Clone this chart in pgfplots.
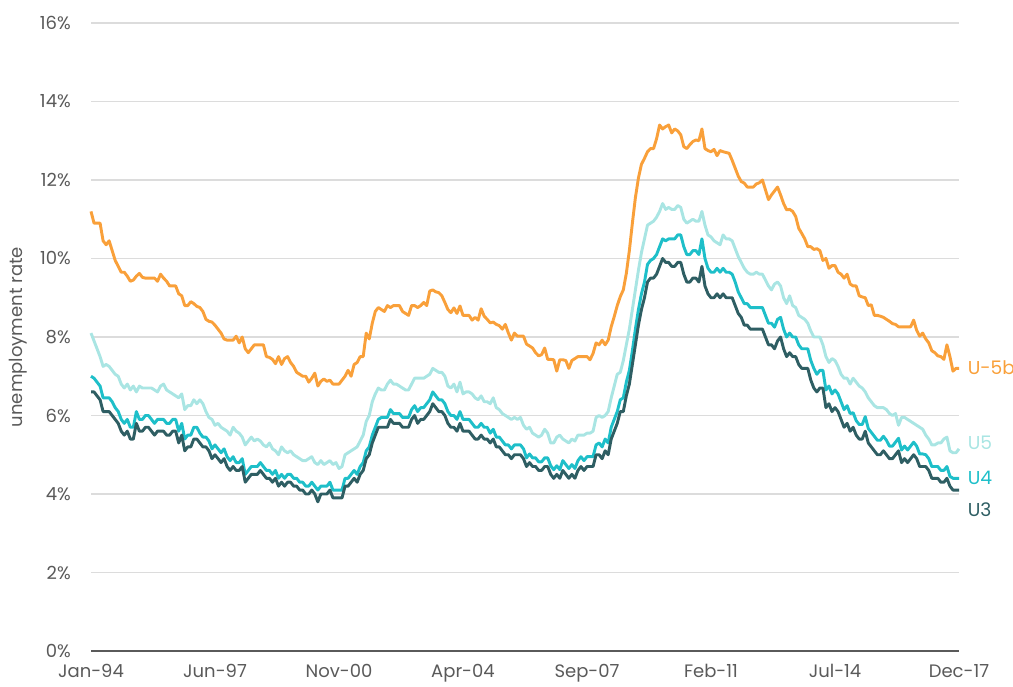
\documentclass[border=0pt]{standalone}
\usepackage{fontspec}
\setmainfont{Poppins}
\usepackage{pgfplots}
\pgfplotsset{compat=1.18}
\usepackage{pgfplotstable}
\definecolor{cU3}{HTML}{2E5E63}
\definecolor{cU4}{HTML}{1EBFC9}
\definecolor{cU5}{HTML}{A9E5E3}
\definecolor{cU5b}{HTML}{F9A03A}
\definecolor{txt}{HTML}{5A5A5A}
\definecolor{grd}{HTML}{DCDCDC}

% U3, Jan-94 .. Dec-17 (monthly)
\pgfplotstableread[row sep=\\]{
y\\
6.6\\6.6\\6.5\\6.4\\6.1\\6.1\\6.1\\6.0\\5.9\\5.8\\5.6\\5.5\\
5.6\\5.4\\5.4\\5.8\\5.6\\5.6\\5.7\\5.7\\5.6\\5.5\\5.6\\5.6\\
5.6\\5.5\\5.5\\5.6\\5.6\\5.3\\5.5\\5.1\\5.2\\5.2\\5.4\\5.4\\
5.3\\5.2\\5.2\\5.1\\4.9\\5.0\\4.9\\4.8\\4.9\\4.7\\4.6\\4.7\\
4.6\\4.6\\4.7\\4.3\\4.4\\4.5\\4.5\\4.5\\4.6\\4.5\\4.4\\4.4\\
4.3\\4.4\\4.2\\4.3\\4.2\\4.3\\4.3\\4.2\\4.2\\4.1\\4.1\\4.0\\
4.0\\4.1\\4.0\\3.8\\4.0\\4.0\\4.0\\4.1\\3.9\\3.9\\3.9\\3.9\\
4.2\\4.2\\4.3\\4.4\\4.3\\4.5\\4.6\\4.9\\5.0\\5.3\\5.5\\5.7\\
5.7\\5.7\\5.7\\5.9\\5.8\\5.8\\5.8\\5.7\\5.7\\5.7\\5.9\\6.0\\
5.8\\5.9\\5.9\\6.0\\6.1\\6.3\\6.2\\6.1\\6.1\\6.0\\5.8\\5.7\\
5.7\\5.6\\5.8\\5.6\\5.6\\5.6\\5.5\\5.4\\5.4\\5.5\\5.4\\5.4\\
5.3\\5.4\\5.2\\5.2\\5.1\\5.0\\5.0\\4.9\\5.0\\5.0\\5.0\\4.9\\
4.7\\4.8\\4.7\\4.7\\4.6\\4.6\\4.7\\4.7\\4.5\\4.4\\4.5\\4.4\\
4.6\\4.5\\4.4\\4.5\\4.4\\4.6\\4.7\\4.6\\4.7\\4.7\\4.7\\5.0\\
5.0\\4.9\\5.1\\5.0\\5.4\\5.6\\5.8\\6.1\\6.1\\6.5\\6.8\\7.3\\
7.8\\8.3\\8.7\\9.0\\9.4\\9.5\\9.5\\9.6\\9.8\\10.0\\9.9\\9.9\\
9.8\\9.8\\9.9\\9.9\\9.6\\9.4\\9.4\\9.5\\9.5\\9.4\\9.8\\9.3\\
9.1\\9.0\\9.0\\9.1\\9.0\\9.1\\9.0\\9.0\\9.0\\8.8\\8.6\\8.5\\
8.3\\8.3\\8.2\\8.2\\8.2\\8.2\\8.2\\8.0\\7.8\\7.8\\7.7\\7.9\\
8.0\\7.7\\7.5\\7.6\\7.5\\7.5\\7.3\\7.2\\7.2\\7.2\\6.9\\6.7\\
6.6\\6.7\\6.7\\6.2\\6.3\\6.1\\6.2\\6.1\\5.9\\5.7\\5.8\\5.6\\
5.7\\5.5\\5.4\\5.4\\5.6\\5.3\\5.2\\5.1\\5.0\\5.0\\5.1\\5.0\\
4.9\\4.9\\5.0\\5.1\\4.8\\4.9\\4.8\\4.9\\5.0\\4.9\\4.7\\4.7\\
4.7\\4.6\\4.4\\4.4\\4.4\\4.3\\4.3\\4.4\\4.2\\4.1\\4.1\\4.1\\
}\uthree

% U4
\pgfplotstableread[row sep=\\]{
y\\
7.0\\6.95\\6.85\\6.75\\6.45\\6.45\\6.45\\6.35\\6.2\\6.1\\5.9\\5.8\\
5.9\\5.7\\5.7\\6.1\\5.9\\5.9\\6.0\\6.0\\5.9\\5.8\\5.9\\5.9\\
5.9\\5.8\\5.8\\5.9\\5.9\\5.6\\5.8\\5.4\\5.5\\5.5\\5.7\\5.7\\
5.55\\5.45\\5.45\\5.35\\5.15\\5.25\\5.15\\5.05\\5.15\\4.95\\4.85\\4.95\\
4.8\\4.8\\4.9\\4.5\\4.6\\4.7\\4.7\\4.7\\4.8\\4.7\\4.6\\4.6\\
4.5\\4.6\\4.4\\4.5\\4.4\\4.5\\4.5\\4.4\\4.4\\4.3\\4.3\\4.2\\
4.2\\4.3\\4.2\\4.1\\4.2\\4.2\\4.2\\4.3\\4.1\\4.1\\4.1\\4.1\\
4.4\\4.4\\4.5\\4.6\\4.5\\4.7\\4.8\\5.1\\5.2\\5.5\\5.7\\5.9\\
5.95\\5.95\\5.95\\6.15\\6.05\\6.05\\6.05\\5.95\\5.95\\5.95\\6.15\\6.25\\
6.1\\6.2\\6.2\\6.3\\6.4\\6.6\\6.5\\6.4\\6.4\\6.3\\6.1\\6.0\\
6.0\\5.9\\6.1\\5.9\\5.9\\5.9\\5.8\\5.7\\5.7\\5.8\\5.7\\5.7\\
5.55\\5.65\\5.45\\5.45\\5.35\\5.25\\5.25\\5.15\\5.25\\5.25\\5.25\\5.15\\
4.92\\5.02\\4.92\\4.92\\4.82\\4.82\\4.92\\4.92\\4.72\\4.62\\4.72\\4.62\\
4.85\\4.75\\4.65\\4.75\\4.65\\4.85\\4.95\\4.85\\4.95\\4.95\\4.95\\5.25\\
5.3\\5.2\\5.4\\5.3\\5.7\\5.9\\6.1\\6.4\\6.45\\6.85\\7.15\\7.65\\
8.2\\8.7\\9.1\\9.4\\9.85\\9.95\\10.0\\10.1\\10.3\\10.5\\10.45\\10.5\\
10.5\\10.5\\10.6\\10.6\\10.3\\10.1\\10.1\\10.2\\10.2\\10.1\\10.5\\10.0\\
9.75\\9.65\\9.65\\9.75\\9.65\\9.75\\9.65\\9.65\\9.6\\9.4\\9.15\\9.0\\
8.85\\8.85\\8.75\\8.75\\8.75\\8.75\\8.75\\8.55\\8.35\\8.35\\8.25\\8.45\\
8.5\\8.2\\8.0\\8.1\\8.0\\8.0\\7.8\\7.7\\7.7\\7.7\\7.4\\7.2\\
7.05\\7.15\\7.15\\6.65\\6.75\\6.55\\6.65\\6.55\\6.35\\6.15\\6.25\\6.05\\
6.07\\5.87\\5.77\\5.77\\5.97\\5.67\\5.57\\5.47\\5.37\\5.37\\5.47\\5.37\\
5.22\\5.22\\5.32\\5.42\\5.12\\5.22\\5.12\\5.22\\5.32\\5.22\\5.02\\5.02\\
5.0\\4.9\\4.7\\4.7\\4.7\\4.6\\4.6\\4.7\\4.45\\4.4\\4.4\\4.4\\
}\ufour

% U5
\pgfplotstableread[row sep=\\]{
y\\
8.1\\7.9\\7.7\\7.5\\7.25\\7.3\\7.25\\7.15\\7.05\\7.0\\6.8\\6.7\\
6.8\\6.65\\6.75\\6.6\\6.75\\6.7\\6.7\\6.7\\6.7\\6.65\\6.6\\6.75\\
6.8\\6.65\\6.6\\6.55\\6.5\\6.45\\6.55\\6.15\\6.25\\6.25\\6.4\\6.3\\
6.4\\6.3\\6.1\\5.95\\5.9\\5.75\\5.8\\5.7\\5.65\\5.6\\5.5\\5.7\\
5.6\\5.55\\5.45\\5.25\\5.35\\5.45\\5.35\\5.4\\5.35\\5.25\\5.2\\5.3\\
5.15\\5.1\\5.0\\5.2\\5.1\\5.05\\5.1\\5.0\\4.95\\4.9\\4.85\\4.85\\
4.9\\4.95\\4.8\\4.75\\4.85\\4.75\\4.8\\4.85\\4.75\\4.8\\4.65\\4.7\\
5.0\\5.05\\5.1\\5.15\\5.2\\5.35\\5.5\\5.85\\6.0\\6.35\\6.55\\6.7\\
6.65\\6.65\\6.8\\6.9\\6.8\\6.8\\6.75\\6.7\\6.65\\6.65\\6.8\\6.95\\
6.95\\6.95\\6.95\\7.0\\7.05\\7.2\\7.15\\7.1\\7.1\\7.0\\6.75\\6.7\\
6.8\\6.6\\6.85\\6.55\\6.6\\6.6\\6.55\\6.45\\6.4\\6.5\\6.35\\6.35\\
6.3\\6.45\\6.2\\6.15\\6.05\\6.0\\5.95\\5.9\\5.95\\5.9\\5.95\\5.75\\
5.65\\5.7\\5.55\\5.5\\5.45\\5.5\\5.65\\5.55\\5.3\\5.3\\5.45\\5.5\\
5.4\\5.35\\5.3\\5.4\\5.35\\5.5\\5.5\\5.5\\5.55\\5.55\\5.6\\5.95\\
6.0\\5.95\\6.0\\6.1\\6.45\\6.75\\7.05\\7.1\\7.4\\7.8\\8.2\\8.7\\
9.2\\9.7\\10.15\\10.5\\10.85\\10.9\\10.95\\11.05\\11.2\\11.4\\11.25\\11.3\\
11.25\\11.25\\11.35\\11.3\\11.0\\10.9\\10.95\\11.0\\10.95\\10.95\\11.2\\10.85\\
10.6\\10.55\\10.45\\10.4\\10.35\\10.6\\10.5\\10.5\\10.45\\10.25\\10.05\\9.9\\
9.75\\9.65\\9.6\\9.6\\9.65\\9.6\\9.6\\9.45\\9.3\\9.2\\9.35\\9.4\\
9.3\\9.0\\8.85\\9.05\\8.8\\8.75\\8.55\\8.5\\8.45\\8.35\\8.15\\8.0\\
8.0\\8.0\\7.8\\7.5\\7.35\\7.45\\7.4\\7.25\\7.05\\6.95\\6.95\\6.8\\
6.95\\6.85\\6.75\\6.7\\6.6\\6.45\\6.35\\6.25\\6.2\\6.2\\6.2\\6.15\\
6.05\\6.0\\6.05\\5.75\\5.95\\5.95\\5.9\\5.85\\5.8\\5.75\\5.7\\5.65\\
5.5\\5.4\\5.25\\5.25\\5.3\\5.3\\5.4\\5.45\\5.1\\5.05\\5.05\\5.15\\
}\ufive

% U-5b
\pgfplotstableread[row sep=\\]{
y\\
11.2\\10.9\\10.9\\10.9\\10.45\\10.35\\10.45\\10.2\\9.95\\9.8\\9.65\\9.65\\
9.55\\9.42\\9.45\\9.55\\9.62\\9.52\\9.5\\9.5\\9.5\\9.5\\9.42\\9.6\\
9.5\\9.42\\9.3\\9.3\\9.3\\9.1\\9.05\\8.8\\8.8\\8.9\\8.85\\8.78\\
8.75\\8.65\\8.45\\8.4\\8.38\\8.3\\8.2\\8.1\\7.95\\7.92\\7.92\\7.92\\
8.02\\7.85\\8.0\\7.7\\7.6\\7.7\\7.8\\7.8\\7.8\\7.8\\7.5\\7.48\\
7.43\\7.32\\7.5\\7.3\\7.45\\7.5\\7.35\\7.25\\7.1\\7.05\\7.0\\7.0\\
6.85\\6.95\\7.08\\6.75\\6.87\\6.93\\6.87\\6.9\\6.8\\6.8\\6.8\\6.9\\
7.0\\7.15\\7.0\\7.3\\7.35\\7.5\\7.5\\8.1\\7.95\\8.35\\8.65\\8.75\\
8.7\\8.65\\8.8\\8.75\\8.8\\8.8\\8.8\\8.65\\8.6\\8.55\\8.8\\8.8\\
8.75\\8.8\\8.88\\8.8\\9.17\\9.2\\9.15\\9.13\\9.05\\8.88\\8.7\\8.62\\
8.74\\8.6\\8.79\\8.55\\8.55\\8.55\\8.43\\8.5\\8.43\\8.72\\8.53\\8.45\\
8.36\\8.38\\8.32\\8.29\\8.2\\8.32\\8.1\\7.92\\8.1\\8.02\\8.02\\8.02\\
7.82\\7.77\\7.72\\7.6\\7.52\\7.55\\7.72\\7.43\\7.43\\7.42\\7.13\\7.42\\
7.42\\7.4\\7.2\\7.4\\7.45\\7.5\\7.5\\7.5\\7.5\\7.42\\7.58\\7.85\\
7.8\\7.92\\7.8\\7.92\\8.26\\8.52\\8.8\\9.03\\9.2\\9.62\\10.2\\10.9\\
11.55\\12.05\\12.4\\12.55\\12.72\\12.8\\12.8\\13.05\\13.4\\13.3\\13.36\\13.4\\
13.2\\13.3\\13.25\\13.15\\12.85\\12.8\\12.9\\12.98\\13.02\\13.0\\13.3\\12.8\\
12.75\\12.72\\12.78\\12.62\\12.75\\12.72\\12.7\\12.68\\12.5\\12.3\\12.1\\11.96\\
11.92\\11.82\\11.82\\11.82\\11.9\\11.93\\12.0\\11.75\\11.5\\11.62\\11.72\\11.82\\
11.62\\11.4\\11.24\\11.25\\11.2\\11.07\\10.77\\10.64\\10.5\\10.3\\10.3\\10.23\\
10.25\\10.2\\9.95\\10.0\\9.75\\9.82\\9.82\\9.65\\9.6\\9.5\\9.6\\9.35\\
9.3\\9.3\\9.05\\9.02\\9.0\\8.8\\8.82\\8.55\\8.55\\8.53\\8.5\\8.45\\
8.4\\8.34\\8.32\\8.26\\8.26\\8.26\\8.26\\8.26\\8.43\\8.17\\8.02\\8.1\\
7.95\\7.85\\7.65\\7.6\\7.52\\7.5\\7.43\\7.8\\7.5\\7.13\\7.2\\7.2\\
}\ufiveb

\begin{document}
\begin{tikzpicture}
\begin{axis}[
  scale only axis,
  width=651pt, height=471pt,
  xmin=0, xmax=287, ymin=0, ymax=16,
  axis line style={draw=none},
  major tick length=0pt,
  ymajorgrids,
  grid style={grd, line width=0.8pt},
  ytick={0,2,...,16},
  yticklabel={\pgfmathprintnumber{\tick}\%},
  xtick={0,41,82,123,164,205,246,287},
  xticklabels={Jan-94,Jun-97,Nov-00,Apr-04,Sep-07,Feb-11,Jul-14,Dec-17},
  /pgf/number format/assume math mode=true,
  tick label style={font=\fontsize{13.5}{16}\selectfont, text=txt},
  yticklabel style={anchor=east, inner sep=0pt, xshift=-15pt},
  xticklabel style={anchor=north, inner sep=0pt, yshift=-10pt},
  ylabel={unemployment rate},
  every axis y label/.style={at={(rel axis cs:-0.0841,0.5)}, rotate=90, anchor=center,
     font=\fontsize{13.5}{16}\selectfont, text=txt},
  clip=false,
  every axis plot/.append style={line width=2.2pt, line join=round, no markers},
]
\addplot[cU5] table[x expr=\coordindex, y=y] {\ufive};
\addplot[cU4] table[x expr=\coordindex, y=y] {\ufour};
\addplot[cU3] table[x expr=\coordindex, y=y] {\uthree};
\addplot[cU5b] table[x expr=\coordindex, y=y] {\ufiveb};
\draw[txt, line width=1.6pt] (rel axis cs:0,0) -- (rel axis cs:1,0);
\node[anchor=west, text=cU5b, font=\fontsize{14}{16}\selectfont, inner sep=0pt] at (axis cs:289.8,7.21) {U-5b};
\node[anchor=west, text=cU5, font=\fontsize{14}{16}\selectfont, inner sep=0pt] at (axis cs:289.8,5.3) {U5};
\node[anchor=west, text=cU4, font=\fontsize{14}{16}\selectfont, inner sep=0pt] at (axis cs:289.8,4.41) {U4};
\node[anchor=west, text=cU3, font=\fontsize{14}{16}\selectfont, inner sep=0pt] at (axis cs:289.8,3.59) {U3};
\coordinate (bl) at (rel axis cs:-0.10484,-0.05732);
\coordinate (tr) at (rel axis cs:1.06221,1.03662);
\end{axis}
\pgfresetboundingbox
\path (bl) rectangle (tr);
\end{tikzpicture}
\end{document}
